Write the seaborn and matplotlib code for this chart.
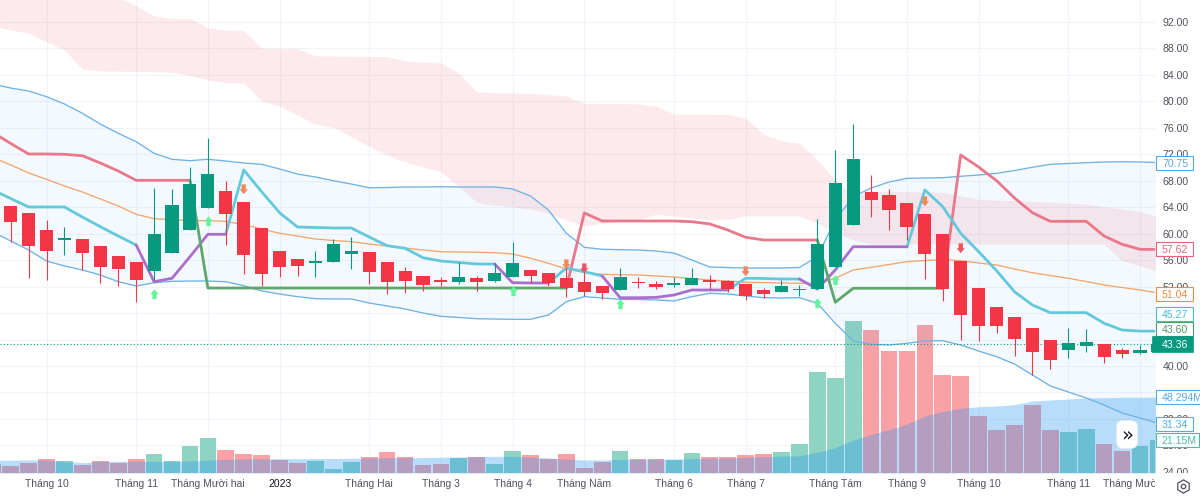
import matplotlib
matplotlib.use("Agg")
import matplotlib.pyplot as plt
import numpy as np
import seaborn as sns
from matplotlib.lines import Line2D
from matplotlib.markers import MarkerStyle
from matplotlib.patches import Rectangle
from matplotlib.transforms import Bbox, blended_transform_factory

nan = float("nan")

# one entry per session, the first one sits just off the left edge
open_p = [66.0, 64.19, 63.08, 60.56, 59.0, 59.24, 58.14, 56.67, 55.68, 54.36, 57.04, 60.6, 63.93, 66.5, 64.79, 60.82,
          57.34, 56.13, 55.62, 55.68, 56.98, 57.19, 55.72, 54.36, 53.65, 53.0, 52.74, 53.26, 52.9, 53.45, 54.56, 54.01,
          53.35, 52.7, 52.09, 51.49, 52.7, 52.44, 52.24, 52.24, 53.0, 52.85, 52.35, 51.53, 51.19, 51.49, 51.59, 55.01,
          61.27, 66.35, 65.85, 64.64, 62.93, 60.0, 55.92, 51.79, 48.87, 47.41, 45.79, 43.93, 42.46, 42.98, 43.33, 42.37,
          42.0, 42.16]
close_p = [64.5, 61.81, 58.09, 57.43, 59.31, 57.13, 55.01, 54.62, 53.0, 59.91, 64.29, 67.47, 69.03, 63.02, 56.78, 53.86,
           55.01, 55.16, 55.83, 58.44, 57.38, 54.26, 52.65, 52.85, 52.24, 52.74, 53.5, 52.74, 54.01, 55.62, 53.56, 52.5,
           51.84, 51.19, 51.08, 53.5, 52.5, 51.94, 52.5, 53.26, 52.74, 51.6, 50.63, 50.88, 52.05, 51.64, 58.44, 67.71,
           71.29, 65.14, 63.54, 61.01, 56.88, 51.69, 47.71, 46.0, 46.0, 44.13, 42.16, 40.95, 43.43, 43.67, 41.36, 41.77,
           42.46, 43.36]
high_p = [66.5, 64.19, 63.08, 62.07, 60.97, 59.24, 58.14, 56.67, 55.68, 66.95, 66.71, 70.04, 74.47, 68.01, 64.79, 60.82,
          57.34, 56.13, 57.34, 59.15, 59.46, 57.19, 55.72, 54.92, 53.65, 53.5, 55.77, 53.61, 55.53, 58.7, 54.56, 54.01,
          55.27, 55.0, 52.09, 54.77, 53.5, 52.8, 53.5, 54.77, 53.8, 53.0, 52.35, 51.84, 53.0, 52.24, 62.18, 72.65,
          76.58, 68.87, 66.71, 64.64, 62.93, 60.0, 55.92, 51.79, 48.87, 47.41, 45.79, 43.93, 45.7, 45.55, 43.33, 42.72,
          43.17, 44.0]
low_p = [63.0, 58.79, 53.26, 53.0, 56.78, 54.51, 52.5, 52.09, 49.72, 53.0, 57.04, 60.6, 63.93, 58.34, 53.91, 52.09,
         53.41, 53.61, 53.41, 55.68, 54.71, 52.35, 50.84, 51.08, 51.38, 52.09, 52.4, 51.38, 52.7, 53.45, 52.5, 52.09,
         50.48, 50.58, 50.17, 51.49, 51.79, 51.64, 51.9, 52.24, 51.64, 51.14, 49.98, 50.33, 51.19, 50.6, 51.59, 55.01,
         61.27, 62.57, 60.56, 59.05, 53.15, 49.87, 43.93, 43.82, 44.94, 41.51, 38.64, 39.5, 41.25, 42.16, 40.5, 41.25,
         41.8, 41.9]

volume_m = [5.54, 4.27, 6.37, 8.73, 7.45, 4.9, 7.45, 6.56, 8.73, 11.91, 7.45, 17.0, 22.1, 14.84, 11.91, 11.27,
            8.28, 6.37, 7.64, 2.36, 6.82, 10.19, 13.18, 10.38, 4.9, 5.92, 9.75, 10.38, 5.92, 13.82, 11.46, 8.73,
            11.91, 2.99, 6.82, 13.82, 8.73, 8.73, 8.28, 12.55, 10.0, 10.0, 11.46, 11.91, 13.18, 18.28, 64.33, 60.51,
            96.62, 90.89, 77.52, 77.52, 94.27, 62.23, 61.59, 36.5, 27.58, 30.38, 43.12, 27.2, 25.92, 28.22, 18.28, 13.82,
            17.0, 21.15]
volume_ma = [8.09, 8.15, 8.28, 8.28, 7.45, 6.56, 7.45, 7.45, 7.45, 7.45, 7.45, 7.64, 8.28, 8.73, 8.92, 9.11,
             9.11, 9.11, 9.24, 9.24, 9.36, 9.55, 9.68, 9.75, 9.87, 10.0, 10.19, 10.38, 10.64, 10.64, 10.19, 9.55,
             8.92, 8.28, 8.28, 8.73, 8.73, 8.73, 8.92, 9.11, 9.36, 9.55, 10.0, 10.38, 10.83, 11.02, 13.18, 16.11,
             20.83, 24.65, 27.58, 31.21, 36.31, 39.3, 41.21, 42.23, 42.68, 43.5, 45.86, 46.5, 47.13, 47.77, 47.95, 48.15,
             48.25, 48.294]

band_upper = [82.63, 82.02, 81.57, 80.71, 79.61, 78.2, 76.58, 75.18, 73.91, 72.15, 71.25, 71.04, 71.25, 70.99, 70.69, 70.49,
              69.78, 69.02, 68.57, 68.01, 67.51, 66.95, 66.98, 67.06, 67.06, 67.1, 67.06, 67.06, 67.06, 66.76, 65.7, 63.58,
              60.06, 57.94, 57.64, 57.58, 57.54, 57.38, 57.08, 56.02, 54.97, 54.89, 54.81, 54.81, 54.81, 54.89, 56.52, 62.07,
              65.59, 66.91, 67.82, 68.37, 68.42, 68.47, 68.68, 68.87, 69.13, 69.55, 70.04, 70.49, 70.61, 70.73, 70.84, 70.88,
              70.84, 70.75]
band_lower = [60.26, 58.9, 57.54, 55.87, 55.12, 54.51, 53.76, 52.74, 52.09, 52.59, 52.8, 52.85, 52.85, 52.74, 52.14, 51.34,
              50.88, 50.48, 50.17, 50.13, 50.13, 49.52, 49.07, 48.62, 48.01, 47.51, 47.33, 47.15, 47.1, 47.06, 47.06, 47.71,
              49.72, 50.48, 50.28, 50.08, 50.05, 49.98, 49.83, 50.48, 50.99, 50.88, 50.58, 50.33, 50.28, 50.33, 49.48, 46.46,
              43.78, 43.28, 43.17, 43.43, 43.78, 43.82, 43.17, 42.27, 41.41, 40.3, 38.64, 36.98, 36.07, 35.16, 34.1, 32.89,
              32.14, 31.34]
band_mid = [71.52, 70.39, 69.18, 68.22, 67.21, 66.3, 65.25, 64.19, 62.93, 62.27, 62.12, 61.97, 61.97, 61.87, 61.36, 60.71,
            60.06, 59.65, 59.2, 58.97, 58.79, 58.44, 58.14, 57.84, 57.54, 57.28, 57.23, 57.19, 57.13, 56.93, 56.28, 55.53,
            54.66, 54.16, 53.86, 53.8, 53.76, 53.61, 53.45, 53.23, 53.0, 52.85, 52.65, 52.62, 52.55, 52.5, 52.5, 53.26,
            54.51, 54.92, 55.34, 55.77, 55.95, 56.07, 55.92, 55.57, 55.27, 54.66, 54.1, 53.68, 53.26, 52.77, 52.24, 51.87,
            51.49, 51.04]

cloud_top = [105.91, 105.15, 104.1, 102.89, 101.37, 99.86, 97.9, 95.78, 94.42, 92.95, 92.56, 92.56, 91.1, 90.79, 90.69, 88.03,
             88.0, 87.97, 86.86, 86.86, 86.82, 86.79, 86.76, 86.11, 85.96, 85.85, 84.25, 81.42, 81.32, 81.27, 81.22, 81.04,
             80.82, 79.71, 79.68, 79.65, 79.61, 79.3, 78.09, 78.09, 78.09, 78.05, 77.45, 75.07, 74.06, 73.67, 71.14, 68.12,
             65.85, 66.35, 66.35, 66.35, 66.3, 66.26, 65.7, 65.2, 65.09, 64.99, 64.87, 64.75, 64.6, 64.49, 64.08, 63.73,
             63.33, 62.57]
cloud_bottom = [91.4, 90.79, 90.29, 89.02, 87.77, 84.9, 84.6, 84.57, 84.55, 84.5, 84.4, 83.95, 83.23, 82.83, 82.78, 80.06,
                79.3, 77.94, 76.54, 76.08, 74.66, 73.15, 71.9, 70.84, 70.08, 69.37, 67.1, 64.75, 64.34, 64.04, 63.73, 63.08,
                62.07, 61.16, 61.57, 61.92, 62.07, 62.93, 62.68, 62.37, 62.18, 62.18, 62.72, 62.68, 62.68, 62.68, 61.57, 60.3,
                59.05, 58.44, 58.44, 58.44, 58.44, 58.44, 58.44, 58.44, 58.44, 58.44, 58.44, 58.44, 58.44, 58.44, 58.44, 55.92,
                55.16, 54.26]

line_red = [75.3, 73.64, 72.05, 72.05, 72.0, 71.79, 70.69, 69.48, 68.07, 68.07, 68.07, 68.07] + [nan] * 20 + \
           [51.79, 63.13, 61.92, 61.92, 61.92, 61.92, 61.92, 61.81, 61.47, 60.56, 59.46, 59.05, 59.05, 59.05, 59.05] + [nan] * 6 + \
           [51.79, 71.9, 70.08, 68.01, 65.4, 63.17, 61.87, 61.87, 61.87, 59.65, 58.4, 57.64, 57.62]
line_cyan = [66.61, 65.32, 64.04, 64.04, 64.04, 62.52, 61.06, 59.65, 58.29] + [nan] * 4 + \
            [59.95, 69.63, 66.35, 63.17, 61.01, 60.94, 60.86, 60.86, 59.5, 58.19, 57.79, 56.37, 55.87, 55.65, 55.42, 55.42] + [nan] * 2 + \
            [52.55, 54.81, 54.26, 53.61] + [nan] * 6 + \
            [51.49, 53.26, 53.23, 53.15, 53.15] + [nan] * 5 + \
            [57.99, 66.61, 64.08, 60.06, 57.28, 54.41, 51.23, 49.22, 48.06, 48.06, 48.06, 46.46, 45.44, 45.27, 45.27]
line_purple = [nan] * 8 + [58.29, 52.74, 53.26, 56.52, 59.91, 59.91] + [nan] * 14 + \
              [55.42, 52.59, 52.55, 52.55] + [nan] * 2 + \
              [53.61, 50.32, 50.32, 50.37, 50.73, 51.49, 51.49, 51.49] + [nan] * 3 + \
              [53.15, 51.64, 54.51, 58.03, 58.03, 58.03, 58.03] + [nan] * 14
line_green = [nan] * 11 + [68.07] + [51.79] * 21 + [nan] * 13 + \
             [59.05, 49.63, 51.75, 51.75, 51.75, 51.75, 51.75, 51.75] + [nan] * 12

up_idx = [8, 11, 28, 34, 45, 46]
up_price = [50.88, 61.87, 51.34, 49.37, 49.57, 53.0]
down_idx = [13, 31, 32, 41, 51, 53]
down_price = [66.76, 55.42, 54.81, 54.36, 64.94, 57.84]
down_colors = ["#f2875a", "#f2875a", "#e9565f", "#f2875a", "#f2875a", "#e9565f"]

price_ticks = [92, 88, 84, 80, 76, 72, 68, 64, 60, 56, 52, 48, 44, 40, 36, 32, 28, 24]
hidden_ticks = [48, 44, 36]  # sit fully under the value tags
month_idx = [2, 7, 11, 15, 20, 24, 28, 32, 37, 41, 46, 50, 54, 59, 63]
month_labels = ["Tháng 10", "Tháng 11", "Tháng Mười hai", "2023", "Tháng Hai", "Tháng 3", "Tháng 4", "Tháng Năm",
                "Tháng 6", "Tháng 7", "Tháng Tám", "Tháng 9", "Tháng 10", "Tháng 11", "Tháng Mười hai"]

W, H = 1200, 497
GREEN, RED = "#089981", "#f23645"
GRID = "#f0f3fa"
TEXT = "#50535e"

sns.set_theme(style="white")
plt.rcParams["font.family"] = ["Liberation Sans", "DejaVu Sans"]

idx = np.arange(-1, 65)
is_up = np.array(close_p) >= np.array(open_p)

fig = plt.figure(figsize=(W / 100, H / 100), dpi=100, facecolor="white")
ax = fig.add_axes([0, 1 - 473 / H, 1155 / W, 473 / H])
ax_vol = ax.twinx()
ax_vol.set_zorder(1)
ax.set_zorder(2)
ax.patch.set_visible(False)
ax_vol.patch.set_facecolor("white")

# grid goes on the bottom axes so it stays under the volume bars
price_tr = blended_transform_factory(ax_vol.transAxes, ax.transData)
ax_vol.hlines(price_ticks, 0, 1, transform=price_tr, color=GRID, lw=0.75, zorder=0)
ax_vol.vlines(month_idx, 0, 1, transform=ax_vol.get_xaxis_transform(), color=GRID, lw=0.75, zorder=0)

sns.barplot(x=idx, y=volume_m, hue=["up" if u else "down" for u in is_up], palette={"up": "#8fd3c3", "down": "#faa1a6"},
            native_scale=True, dodge=False, width=0.93, saturation=1, legend=False, linewidth=0, ax=ax_vol, zorder=2)
ax_vol.fill_between(idx, 0, volume_ma, color="#2196f3", alpha=0.32, lw=0, zorder=3)
ax_vol.set(xlabel=None, ylabel=None, yticks=[])

ax.fill_between(idx, band_lower, band_upper, color="#2196f3", alpha=0.05, lw=0, zorder=1)
ax.fill_between(idx, cloud_bottom, cloud_top, color="#f23645", alpha=0.1, lw=0, zorder=1)


def draw_line(values, color, lw, zorder=3, alpha=1.0):
    # lineplot would bridge the gaps, so each run is drawn on its own
    values = np.array(values, dtype=float)
    ok = ~np.isnan(values)
    starts = np.where(ok & ~np.r_[False, ok[:-1]])[0]
    stops = np.where(ok & ~np.r_[ok[1:], False])[0]
    for a, b in zip(starts, stops):
        sns.lineplot(x=idx[a:b + 1], y=values[a:b + 1], estimator=None, sort=False, color=color, lw=lw,
                     alpha=alpha, ax=ax, legend=False, zorder=zorder)


draw_line(band_upper, "#6fb2e6", 0.95)
draw_line(band_lower, "#6fb2e6", 0.95)
draw_line(band_mid, "#f2a66d", 0.95)
draw_line(line_red, "#e8788a", 2.0)
draw_line(line_cyan, "#62c9dc", 2.0)
draw_line(line_purple, "#ab6fcb", 2.0)
draw_line(line_green, "#5da76d", 2.0)

ax.axhline(43.36, color=GREEN, ls=(0, (1, 2)), lw=0.8, zorder=3)

candle_colors = [GREEN if u else RED for u in is_up]
ax.vlines(idx, low_p, high_p, colors=candle_colors, lw=0.8, zorder=4)
ax.bar(idx, np.array(close_p) - np.array(open_p), bottom=open_p, width=0.73, color=candle_colors, lw=0, zorder=5)

arrow_up = [(0, 1), (0.8, 0.05), (0.42, 0.05), (0.42, -0.9), (-0.42, -0.9), (-0.42, 0.05), (-0.8, 0.05)]
arrow_down = [(x, -y) for x, y in arrow_up]
ax.scatter(up_idx, up_price, marker=MarkerStyle(arrow_up), s=55, color="#62f59a", lw=0, zorder=6)
ax.scatter(down_idx, down_price, marker=MarkerStyle(arrow_down), s=55, color=down_colors, lw=0, zorder=6)

ax.set_xlim(-10.7 / 17.925, (1155 - 10.7) / 17.925)
ax.set_ylim(40 - 107 / 6.615, 40 + 366 / 6.615)
ax_vol.set_ylim(0, 473 / 1.57)
for s in ax.spines.values():
    s.set_visible(False)
for s in ax_vol.spines.values():
    s.set_visible(False)
ax.yaxis.tick_right()
ax.xaxis.tick_bottom()
ax.set_yticks(price_ticks, ["" if p in hidden_ticks else f"{p:.2f}" for p in price_ticks])
ax.set_xticks(month_idx, month_labels)
ax.tick_params(axis="y", length=0, pad=5.4, labelsize=7.6, labelcolor=TEXT)
ax.tick_params(axis="x", length=0, pad=4.5, labelsize=7.5, labelcolor=TEXT)
ax.set(xlabel=None, ylabel=None)
ax.grid(False)
ax_vol.grid(False)

fig.canvas.draw()
# the time scale and the price scale cut their last labels off
for lbl, name in zip(ax.get_xticklabels(), month_labels):
    lbl.set_clip_on(True)
    lbl.set_clip_box(Bbox([[0, 0], [1155, H]]))
    if name == "2023":
        lbl.set_color("#131722")
for lbl in ax.get_yticklabels():
    lbl.set_clip_on(True)
    lbl.set_clip_box(Bbox([[1155, H - 473], [W, H]]))

tags = [("70.75", 162.7, "#5aa7e6", 1193), ("57.62", 249.3, "#e8647a", 1193), ("51.04", 293.7, "#f28c3c", 1193),
        ("45.27", 314.3, "#43bfd3", 1193), ("43.60", 329.3, "#4f9a68", 1193), ("48.294M", 396.7, "#5aa7e6", 1204),
        ("31.34", 424.3, "#5aa7e6", 1193), ("21.15M", 439.7, "#53b79f", 1199)]
for label, y, color, right in tags:
    fig.add_artist(Rectangle((1155.5 / W, 1 - (y + 7) / H), (right - 1155.5) / W, 14 / H, transform=fig.transFigure,
                             facecolor="white", edgecolor=color, lw=0.8, zorder=10))
    fig.text(1162 / W, 1 - y / H, label, color=color, fontsize=7.6, va="center_baseline", ha="left", zorder=11)
fig.add_artist(Rectangle((1152 / W, 1 - (344.3 + 8) / H), 41 / W, 16 / H, transform=fig.transFigure,
                         facecolor=GREEN, edgecolor=GREEN, lw=0.5, zorder=10))
fig.text(1162 / W, 1 - 344.3 / H, "43.36", color="white", fontsize=7.6, va="center_baseline", ha="left", zorder=11)

# scroll button and settings icon
fig.text(1127 / W, 1 - 434.5 / H, "»", color="#131722", fontsize=14, ha="center", va="center", zorder=11,
         family=["DejaVu Sans"], bbox=dict(boxstyle="round,pad=0.22,rounding_size=0.3", fc="white", ec="#eceef2", lw=0.5))
fig.add_artist(Line2D([1183 / W], [1 - 486 / H], transform=fig.transFigure, marker="h", ms=9.5, mfc="white",
                      mec=TEXT, mew=0.9, ls="none", zorder=11))
fig.add_artist(Line2D([1183 / W], [1 - 486 / H], transform=fig.transFigure, marker="o", ms=3.2, mfc="white",
                      mec=TEXT, mew=0.9, ls="none", zorder=12))

fig.savefig("out.png", dpi=100)
